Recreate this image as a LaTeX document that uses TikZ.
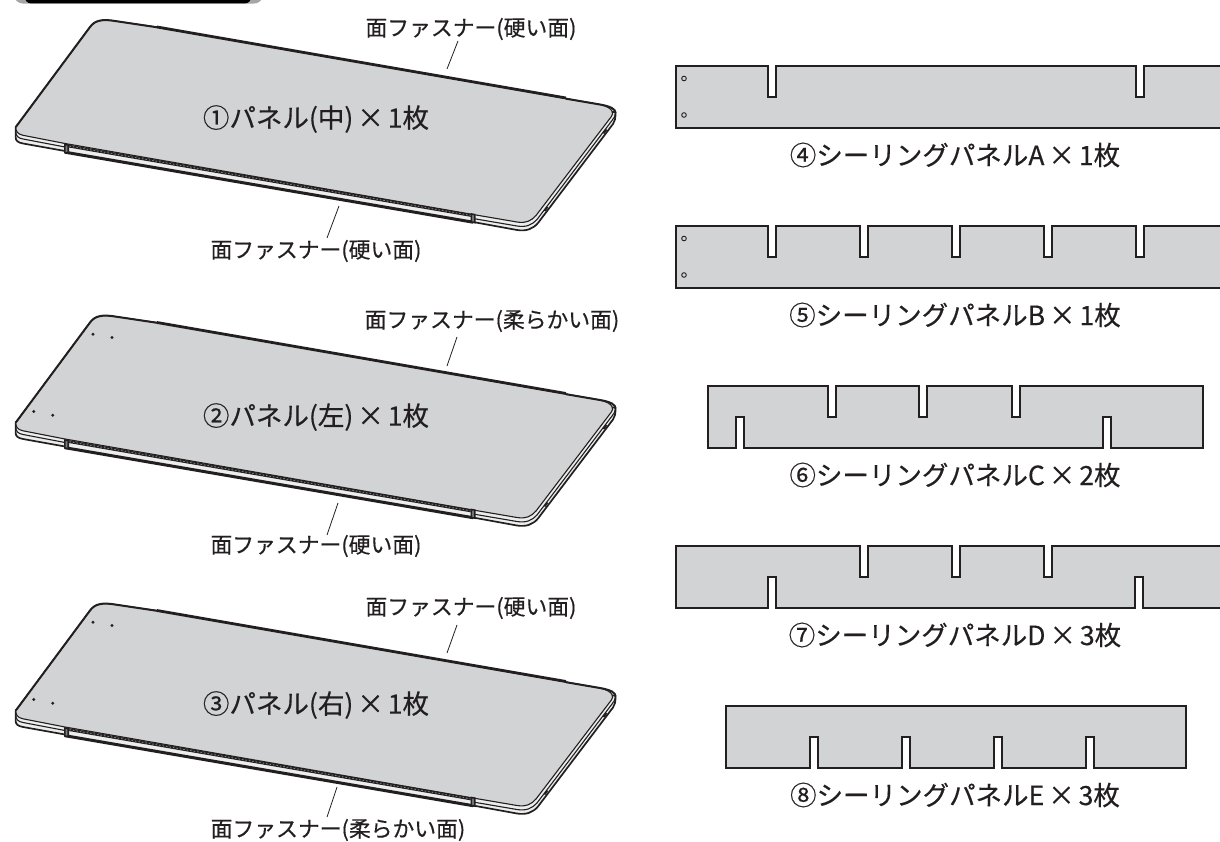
\documentclass[tikz,border=0pt]{standalone}
\usepackage{fontspec}
\setmainfont[FakeBold=0.4]{Noto Sans CJK JP}
\definecolor{ink}{HTML}{231F20}
\definecolor{panelgray}{HTML}{D1D3D4}
\definecolor{sidegray}{HTML}{ECEDED}
\tikzset{
  x=1pt,y=-1pt,
  lbl/.style={inner sep=0pt,font=\fontsize{21.8}{24}\selectfont,text=ink},
  big/.style={inner sep=0pt,font=\fontsize{26.5}{28}\selectfont,text=ink},
  leader/.style={draw=ink,line width=0.8pt},
  sheet/.style={fill=panelgray,draw=none},
  sheetline/.style={draw=ink,line width=2.1pt,line join=miter},
  hole/.style={draw=ink,line width=0.9pt,fill=panelgray},
}
\newcommand{\X}{\hspace{4pt}×\hspace{4pt}}
\newcommand{\tslot}[1]{-- (#1-3.8,0) -- (#1-3.8,31) -- (#1+3.8,31) -- (#1+3.8,0)}
\newcommand{\bslot}[1]{-- (#1+3.8,62) -- (#1+3.8,31) -- (#1-3.8,31) -- (#1-3.8,62)}
\newcommand{\boardshape}{%
  % body (lower layer)
  \path[fill=sidegray,draw=ink,line width=1.7pt,line join=round]
    (15.6,127) -- (15.6,137) .. controls (15.6,141) and (18,142.5) .. (23,143.5)
    -- (65,151) -- (473,222) -- (517,230) .. controls (526,231.5) and (533,229) .. (538,223)
    -- (613,124) .. controls (615,121) and (615.5,119) .. (615.5,112) -- cycle;
  % middle layer
  \draw[ink,line width=1.1pt] (15.8,132) .. controls (16,136) and (18,138) .. (23,139) -- (65,147);
  \draw[ink,line width=1.1pt] (473,218.5) -- (517,226) .. controls (526,227.5) and (532,225) .. (537,219.5)
    -- (612,120.5) .. controls (614,118) and (615,116.5) .. (615.3,114);
  % top surface
  \path[fill=panelgray,draw=ink,line width=1.1pt]
    (15.8,127) .. controls (15.8,131) and (17,134) .. (23,135.3) -- (65,143.5) -- (473,214.5)
    -- (517,222) .. controls (526,223.5) and (531,221) .. (536,215.5)
    -- (611,117) .. controls (614,113.5) and (614,108) .. (600,104.5)
    -- (566,98.5) -- (157,27) -- (115,21) .. controls (103,19) and (95,20) .. (90,27) -- cycle;
  % thick upper edges
  \draw[ink,line width=2pt,line cap=round] (15.8,127) -- (90,27) .. controls (95,20) and (103,19) .. (115,21) -- (157,27.3);
  \draw[ink,line width=2.8pt] (157,27) -- (566,98);
  \draw[ink,line width=2pt] (566,98.7) -- (600,104.5) .. controls (611,106.5) and (615.5,109) .. (615.5,113);
  % fastener strip along the front edge
  \path[fill=sidegray] (66,146) -- (473,216) -- (473,222) -- (66,152) -- cycle;
  \draw[ink,line width=2.8pt] (66,145.6) -- (472,215.6);
  \draw[gray,line width=0.9pt,dash pattern=on 1.5pt off 2pt] (66,145.6) -- (472,215.6);
  \draw[ink,line width=3pt] (65,152.2) -- (473,222.2);
  \path[fill=gray,draw=ink,line width=1.6pt] (64.8,144.5) -- (68.2,145.1) -- (68.2,153.1) -- (64.8,152.5) -- cycle;
  \path[fill=gray,draw=ink,line width=1.6pt] (471.3,214) -- (474.7,214.6) -- (474.7,222.6) -- (471.3,222) -- cycle;
  % fastener ends on the right side
  \draw[ink,line width=1.8pt] (603.5,133.5) -- (606.5,129.5);
  \draw[ink,line width=1.8pt] (544.5,211) -- (547.5,207);
}
\newcommand{\boardholes}{%
  \fill[ink] (93,38.7) circle (1.6) (112,42) circle (1.6) (33.7,116) circle (1.6) (52.7,119.7) circle (1.6);
}
\begin{document}
\begin{tikzpicture}
\useasboundingbox (0,0) rectangle (1220,842);
\clip (0,0) rectangle (1220,842);
% heading tab cut by the top edge
\fill[gray!70,rounded corners=9pt] (14,-30) rectangle (263,3.6);
\fill[black,rounded corners=6pt] (25,-30) rectangle (251,3.4);

% --- boards ---
\begin{scope}\boardshape\end{scope}
\begin{scope}[shift={(0,295.5)}]\boardshape\boardholes\end{scope}
\begin{scope}[shift={(0,583.5)}]\boardshape\boardholes\end{scope}

\node[big] (p1) at (316,119) {①パネル(中)\X 1枚};
\node[big] (p2) at (316,417) {②パネル(左)\X 1枚};
\node[big] (p3) at (316,705) {③パネル(右)\X 1枚};

\node[lbl] (t1) at (471,29) {面ファスナー(硬い面)};
\node[lbl] (b1) at (316,251) {面ファスナー(硬い面)};
\node[lbl] (t2) at (492,321) {面ファスナー(柔らかい面)};
\node[lbl] (b2) at (316,546) {面ファスナー(硬い面)};
\node[lbl] (t3) at (471,608) {面ファスナー(硬い面)};
\node[lbl] (b3) at (338,830) {面ファスナー(柔らかい面)};

\coordinate (t1a) at (458,41);  \coordinate (t1b) at (447,69);
\coordinate (b1a) at (339,206); \coordinate (b1b) at (327,238);
\coordinate (t2a) at (457,337); \coordinate (t2b) at (447,366);
\coordinate (b2a) at (338,503); \coordinate (b2b) at (327,535);
\coordinate (t3a) at (457,625); \coordinate (t3b) at (447,653);
\coordinate (b3a) at (337,787); \coordinate (b3b) at (327,817);
\draw[leader] (t1a) -- (t1b);
\draw[leader] (b1a) -- (b1b);
\draw[leader] (t2a) -- (t2b);
\draw[leader] (b2a) -- (b2b);
\draw[leader] (t3a) -- (t3b);
\draw[leader] (b3a) -- (b3b);

% --- ceiling panel A ---
\begin{scope}[shift={(0,66)}]
  \path[sheet] (1230,0) -- (1143.8,0) -- (1143.8,31) -- (1136.2,31) -- (1136.2,0) -- (775.8,0) -- (775.8,31) -- (768.2,31) -- (768.2,0) -- (676,0) -- (676,62) -- (1230,62) -- cycle;
  \draw[sheetline] (1230,0) -- (1143.8,0) -- (1143.8,31) -- (1136.2,31) -- (1136.2,0) -- (775.8,0) -- (775.8,31) -- (768.2,31) -- (768.2,0) -- (676,0) -- (676,62) -- (1230,62);
  \path[hole] (684,12.5) circle (2.3) (684,49) circle (2.3);
\end{scope}
% --- ceiling panel B ---
\begin{scope}[shift={(0,226)}]
  \path[sheet] (676,0) \tslot{772} \tslot{864} \tslot{956} \tslot{1048} \tslot{1140} -- (1230,0) -- (1230,62) -- (676,62) -- cycle;
  \draw[sheetline] (1230,62) -- (676,62) -- (676,0) \tslot{772} \tslot{864} \tslot{956} \tslot{1048} \tslot{1140} -- (1230,0);
  \path[hole] (684,12.5) circle (2.3) (684,49) circle (2.3);
\end{scope}
% --- ceiling panel C ---
\begin{scope}[shift={(0,386)}]
  \path[sheet] (708,0) \tslot{832} \tslot{923} \tslot{1016} -- (1203,0) -- (1203,62) \bslot{1107} \bslot{740} -- (708,62) -- cycle;
  \draw[sheetline] (708,0) \tslot{832} \tslot{923} \tslot{1016} -- (1203,0) -- (1203,62) \bslot{1107} \bslot{740} -- (708,62) -- cycle;
\end{scope}
% --- ceiling panel D ---
\begin{scope}[shift={(0,546)}]
  \path[sheet] (676,62) -- (676,0) \tslot{864} \tslot{956} \tslot{1048} -- (1230,0) -- (1230,62) \bslot{1139} \bslot{772} -- cycle;
  \draw[sheetline] (1230,0) -- (1051.8,0) -- (1051.8,31) -- (1044.2,31) -- (1044.2,0) -- (959.8,0) -- (959.8,31) -- (952.2,31) -- (952.2,0) -- (867.8,0) -- (867.8,31) -- (860.2,31) -- (860.2,0) -- (676,0) -- (676,62) -- (768.2,62) -- (768.2,31) -- (775.8,31) -- (775.8,62) -- (1135.2,62) -- (1135.2,31) -- (1142.8,31) -- (1142.8,62) -- (1230,62);
\end{scope}
% --- ceiling panel E ---
\begin{scope}[shift={(0,706)}]
  \path[sheet] (726,0) -- (1186,0) -- (1186,62) \bslot{1090} \bslot{998} \bslot{906} \bslot{814} -- (726,62) -- cycle;
  \draw[sheetline] (726,0) -- (1186,0) -- (1186,62) \bslot{1090} \bslot{998} \bslot{906} \bslot{814} -- (726,62) -- cycle;
\end{scope}

\node[big] (c4) at (955,155) {④シーリングパネルA\X 1枚};
\node[big] (c5) at (955,315) {⑤シーリングパネルB\X 1枚};
\node[big] (c6) at (955,475) {⑥シーリングパネルC\X 2枚};
\node[big] (c7) at (955,635) {⑦シーリングパネルD\X 3枚};
\node[big] (c8) at (955,795) {⑧シーリングパネルE\X 3枚};
\end{tikzpicture}
\end{document}
